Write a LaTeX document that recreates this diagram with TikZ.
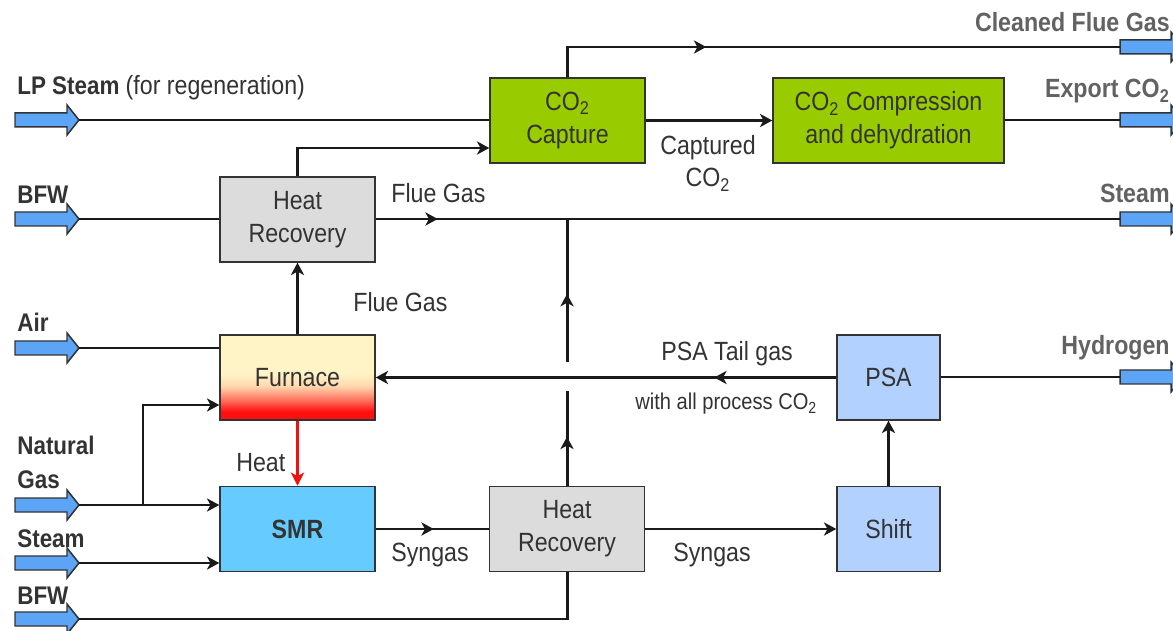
\documentclass[tikz,border=0pt]{standalone}
\usepackage{fontspec}
\setmainfont{Liberation Sans}[FakeStretch=0.88]
\usepackage{xcolor}
\usetikzlibrary{positioning,arrows.meta,calc,decorations.markings}

\definecolor{lineblk}{HTML}{1A1A1A}
\definecolor{boxline}{HTML}{333333}
\definecolor{txtdark}{HTML}{333333}
\definecolor{txtgray}{HTML}{626262}
\definecolor{feedblue}{HTML}{5BA4F6}
\definecolor{hrgray}{HTML}{DCDCDC}
\definecolor{capgreen}{HTML}{99CC00}
\definecolor{smrblue}{HTML}{66CCFF}
\definecolor{psablue}{HTML}{B2D1FF}
\definecolor{heatred}{HTML}{F01010}
\definecolor{furnred}{HTML}{FF1010}
\definecolor{furnsalmon}{HTML}{FF7A66}
\definecolor{furnpeach}{HTML}{FFD8AE}
\definecolor{furnpale}{HTML}{FFF4C6}

\pgfdeclareverticalshading{furnaceshade}{100bp}{color(0bp)=(furnred); color(25bp)=(furnred);
  color(30bp)=(furnred); color(37.5bp)=(furnsalmon); color(45bp)=(furnpeach);
  color(52.5bp)=(furnpale); color(100bp)=(furnpale)}

\newcommand\procfont{\fontsize{15}{18.7}\selectfont}
\newcommand\feedfont{\fontsize{14.5}{17}\selectfont\bfseries}
\newcommand\outfont{\fontsize{15}{18}\selectfont\bfseries}
\newcommand\notefont{\fontsize{13}{15}\selectfont}

\tikzset{
  unit/.style={draw=boxline, line width=0.85pt, minimum width=3.1cm, minimum height=1.7cm,
    align=center, text=txtdark, font=\procfont, inner sep=0pt},
  flow/.style={draw=lineblk, line width=1.7pt},
  flowend/.style={-{Stealth[length=7pt,width=7.5pt,inset=2pt]}},
  heatflow/.style={draw=heatred, line width=1.7pt, -{Stealth[length=7.5pt,width=7.5pt,inset=2pt]}},
  midtip/.style={postaction={decorate}, decoration={markings,
    mark=at position #1 with {\arrow{Stealth[length=7pt,width=7.5pt,inset=2pt]}}}},
  feedarrow/.style={draw=boxline, line width=0.85pt, fill=feedblue},
  lbl/.style={text=txtdark, font=\procfont, inner sep=0pt},
  feedlbl/.style={text=txtdark, font=\feedfont, inner sep=0pt, anchor=base west},
  outlbl/.style={text=txtgray, font=\outfont, inner sep=0pt, anchor=base east},
}

\begin{document}
\begin{tikzpicture}[x=0.02cm, y=-0.02cm]
  \fill[white] (0,0) rectangle (1173,631);
  \useasboundingbox (0,0) rectangle (1173,631);

  % process units
  \node[unit, fill=hrgray] (hrA) at (297.5,219.5) {Heat\\Recovery};
  \node[unit, shade, shading=furnaceshade] (furnace) at (297.5,377.5) {Furnace};
  \node[unit, fill=smrblue] (smr) at (297.5,529) {\textbf{SMR}};
  \node[unit, fill=hrgray] (hrB) at (567,529) {Heat\\Recovery};
  \node[unit, fill=psablue, minimum width=2.06cm] (shift) at (888.5,529) {Shift};
  \node[unit, fill=psablue, minimum width=2.06cm] (psa) at (888.5,377.5) {PSA};
  \node[unit, fill=capgreen] (capture) at (567.5,120.5) {CO\textsubscript{2}\\Capture};
  \node[unit, fill=capgreen, minimum width=4.62cm] (compress) at (888.5,120.5)
    {CO\textsubscript{2} Compression\\and dehydration};

  % feed and product arrows
  \foreach \y/\nm in {120/LP,219/BFWa,348/Air,505/NG,563/St,619/BFWb}{
    \draw[feedarrow] (15,\y-7) -- (67,\y-7) -- (67,\y-15) -- (79,\y) -- (67,\y+15)
      -- (67,\y+7) -- (15,\y+7) -- cycle;
    \coordinate (f\nm) at (79,\y);
  }
  \foreach \y/\nm in {47/Flue,120/CO2,219/Steam,377/Htwo}{
    \draw[feedarrow] (1120,\y-7) -- (1171,\y-7) -- (1171,\y-15) -- (1184,\y) -- (1171,\y+15)
      -- (1171,\y+7) -- (1120,\y+7) -- cycle;
    \coordinate (o\nm) at (1120,\y);
  }

  % streams
  \draw[flow] (fLP) -- (fLP -| capture.west);
  \draw[flow, flowend] (hrA.north) |- (capture.west |- 0,148);
  \draw[flow] (fBFWa) -- (fBFWa -| hrA.west);
  \draw[flow, midtip=1.24cm] (oSteam -| hrA.east) -- (oSteam);
  \draw[flow, midtip=3.38cm] (capture.north) |- (oFlue);
  \draw[flow, flowend] (capture.east) -- (compress.west);
  \draw[flow] (oCO2 -| compress.east) -- (oCO2);
  \draw[flow, flowend] (furnace.north) -- (hrA.south);
  \draw[heatflow] (furnace.south) -- (smr.north);
  \draw[flow] (fAir) -- (fAir -| furnace.west);
  \draw[flow, flowend] (fNG) -- (fNG -| smr.west);
  \coordinate (ngsplit) at (143,505);
  \draw[flow, flowend] (ngsplit) |- (furnace.west |- 0,405);
  \draw[flow, flowend] (fSt) -- (fSt -| smr.west);
  \draw[flow] (fBFWb) -| (hrB.south);
  \draw[flow, midtip=1.16cm] (smr.east) -- (hrB.west);
  \draw[flow, flowend] (hrB.east) -- (shift.west);
  \draw[flow, flowend] (shift.north) -- (psa.south);
  \draw[flow, flowend, midtip=2.44cm] (psa.west) -- (furnace.east);
  \draw[flow] (oHtwo -| psa.east) -- (oHtwo);
  % riser, broken at the tail gas line
  \coordinate (riseLo) at (567,391);
  \coordinate (riseHi) at (567,362);
  \coordinate (riseTop) at (567,219);
  \draw[flow, midtip=0.98cm] (hrB.north) -- (riseLo);
  \draw[flow, midtip=1.36cm] (riseHi) -- (riseTop);

  % stream labels
  \node[lbl, anchor=base west] (lFlueA) at (391,203) {Flue Gas};
  \node[lbl, anchor=base west] (lFlueB) at (353,312) {Flue Gas};
  \node[lbl, align=center] (lCapt) at (708,163) {Captured\\CO\textsubscript{2}};
  \node[lbl, anchor=base west] (lTail) at (661,361) {PSA Tail gas};
  \node[lbl, font=\notefont, anchor=base west] (lTailCO) at (635,410) {with all process CO\textsubscript{2}};
  \node[lbl, anchor=base west] (lHeat) at (236,471) {Heat};
  \node[lbl, anchor=base west] (lSynA) at (391,561) {Syngas};
  \node[lbl, anchor=base west] (lSynB) at (673,561) {Syngas};

  % feed labels
  \node[feedlbl] (tLP) at (17,95) {LP Steam {\procfont\mdseries (for regeneration)}};
  \node[feedlbl] (tBFWa) at (17,204) {BFW};
  \node[feedlbl] (tAir) at (17,332) {Air};
  \node[feedlbl] (tNGa) at (17,455) {Natural};
  \node[feedlbl] (tNGb) at (17,488) {Gas};
  \node[feedlbl] (tSt) at (17,547) {Steam};
  \node[feedlbl] (tBFWb) at (17,604) {BFW};

  % product labels
  \node[outlbl] (tFlue) at (1170,32) {Cleaned Flue Gas};
  \node[outlbl] (tCO2) at (1170,98) {Export CO\textsubscript{2}};
  \node[outlbl] (tSteam) at (1170,203) {Steam};
  \node[outlbl] (tHtwo) at (1170,355) {Hydrogen};
\end{tikzpicture}
\end{document}
